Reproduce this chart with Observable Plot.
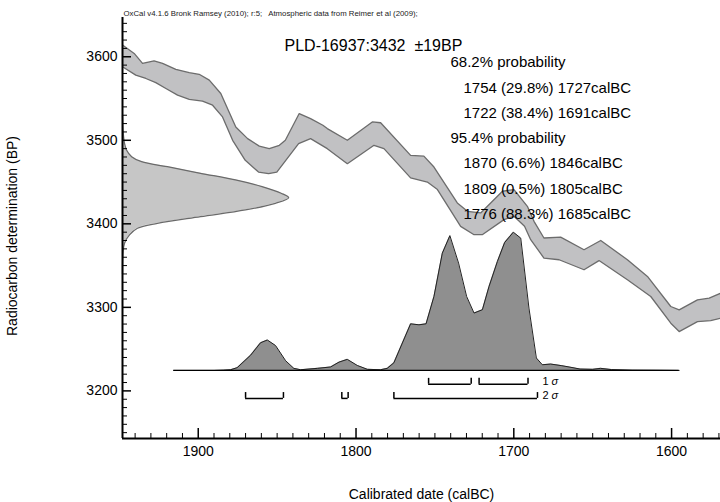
<!DOCTYPE html>
<html><head><meta charset="utf-8">
<script src="https://cdn.jsdelivr.net/npm/d3@7"></script>
<script src="https://cdn.jsdelivr.net/npm/@observablehq/plot@0.6"></script>
<style>
html,body{margin:0;padding:0;background:#fff;}
#chart svg{display:block;}
#chart svg text{white-space:pre;}
</style></head><body><div id="chart"></div>
<script>
// ---------- data ----------
const headerText = "OxCal v4.1.6 Bronk Ramsey (2010); r:5;   Atmospheric data from Reimer et al (2009);";
const sampleTitle = "PLD-16937:3432  \u00B119BP";
const rangeLines = ["68.2% probability", "1754 (29.8%) 1727calBC", "1722 (38.4%) 1691calBC",
  "95.4% probability", "1870 (6.6%) 1846calBC", "1809 (0.5%) 1805calBC", "1776 (88.3%) 1685calBC"];
const rangeIndent = [0, 1, 1, 0, 1, 1, 1];
const xTickValues = [1900, 1800, 1700, 1600];
const yTickValues = [3600, 3500, 3400, 3300, 3200];
const xLabel = "Calibrated date (calBC)";
const yLabel = "Radiocarbon determination (BP)";
const sigmaLabels = ["1", "2"];

// calibration curve band, [year calBC, BP]
const calUpper = [[1948,3614],[1940.6,3604],[1935.3,3592],[1928,3595],[1922.6,3592],[1914.2,3585],
  [1905.7,3581],[1899.4,3579],[1893,3572],[1885.7,3556],[1876.2,3516],[1868.7,3502],[1861.3,3493],
  [1855,3490],[1848.6,3494],[1844.8,3500],[1836,3532],[1828.8,3526],[1821,3518],[1818.2,3514],
  [1805.5,3500],[1789.7,3522],[1784.4,3521],[1765.4,3482],[1757,3481],[1750.6,3468],[1735.8,3425],
  [1729.4,3415],[1721,3413],[1707.2,3439],[1699.9,3441],[1691.4,3421],[1687.2,3403],[1680.9,3383],
  [1670.3,3384],[1655.5,3369],[1644.9,3380],[1628,3357],[1615.3,3337],[1600.5,3301],[1595.2,3297],
  [1583.6,3309],[1576.2,3311],[1568.8,3317]];
const calLower = [[1948,3588],[1939.6,3578],[1933.2,3574],[1926.9,3569],[1920.5,3562],[1913.1,3554],
  [1905.7,3549],[1897.3,3547],[1890.9,3542],[1884.6,3528],[1878.2,3500],[1870.2,3476],[1861.8,3462],
  [1855.4,3460],[1850.2,3462],[1836.4,3496],[1828.8,3502],[1818.2,3490],[1805.5,3472],[1788.6,3494],
  [1782.3,3490],[1765.4,3455],[1754.8,3450],[1748.4,3441],[1733.7,3397],[1725.2,3387],[1720,3387],
  [1706.2,3405],[1699.9,3409],[1693.2,3397],[1689.3,3381],[1680.9,3359],[1671.3,3357],[1655.5,3345],
  [1646,3356],[1628,3333],[1613.2,3313],[1600.5,3281],[1595.2,3271],[1583.6,3283],[1575.2,3284],
  [1568.8,3287]];

// calibrated (posterior) probability, [year calBC, relative probability]
const posterior = [[1915.5,0],[1890,0],[1884,0.002],[1879.5,0.005],[1875.3,0.02],[1866.8,0.11],
  [1860.5,0.20],[1856.2,0.22],[1851,0.18],[1844.6,0.07],[1839.4,0.015],[1835.1,0.005],[1824.5,0.015],
  [1816.1,0.025],[1810.8,0.06],[1805.5,0.08],[1799.2,0.036],[1792.8,0.008],[1784.4,0.005],[1780.2,0.015],
  [1776,0.055],[1765.4,0.337],[1760.1,0.33],[1755.6,0.337],[1750.6,0.535],[1745.3,0.848],[1740.5,0.975],
  [1735,0.776],[1729.9,0.535],[1725.2,0.415],[1719.9,0.439],[1715.7,0.607],[1710.4,0.788],[1705.8,0.925],
  [1700.3,1.0],[1695.6,0.957],[1690.4,0.451],[1685.7,0.09],[1681.9,0.041],[1676.6,0.046],[1670,0.035],
  [1665,0.025],[1658,0.01],[1650,0.008],[1645,0.015],[1638,0.006],[1625,0.002],[1610,0.001],[1595.2,0]];

// radiocarbon determination 3432 ± 19 BP, [BP, relative probability]
const c14 = [[3530,0],[3510,0.004],[3496.4,0.012],[3488.4,0.024],[3480.4,0.055],[3474.4,0.115],
  [3468.4,0.27],[3460.5,0.47],[3452.5,0.68],[3444.5,0.84],[3436.6,0.955],[3431.3,1.0],[3424.6,0.92],
  [3416.6,0.74],[3408.6,0.47],[3400.6,0.21],[3394.7,0.09],[3386.7,0.042],[3376.8,0.012],[3364.8,0.003],
  [3340,0]];

// ranges [from, to] calBC
const sigma1Ranges = [[1754,1727],[1722,1691]];
const sigma2Ranges = [[1870,1846],[1809,1805],[1776,1685]];

// ---------- layout ----------
const W = 720, H = 502, mL = 122, mR = 0, mT = 17, mB = 64;
const xDomain = [1948, 1569], yDomain = [3143, 3647];
const frameW = W - mL - mR, frameH = H - mT - mB;
const postBase = 3224.5, postScale = 165.5;   // posterior drawn in BP units above baseline
const c14Scale = 105.3;                        // years per unit probability for the BP curve
const sig1Y = 3208, sig2Y = 3191, capH = 7;

const bandPoly = calUpper.concat(calLower.slice().reverse());
const yMinor = d3.range(3150, 3650, 10).filter(v => v % 100 !== 0);
const xMinor = d3.range(1570, 1950, 10).filter(v => v % 100 !== 0);

const bracketRows = [
  ...sigma1Ranges.map(r => ({a: r[0], b: r[1], y: sig1Y})),
  ...sigma2Ranges.map(r => ({a: r[0], b: r[1], y: sig2Y}))
];
const caps = bracketRows.flatMap(r => [{x: r.a, y: r.y}, {x: r.b, y: r.y}]);
const labelX = d3.min(sigma2Ranges.concat(sigma1Ranges), r => r[1]);

const chart = Plot.plot({
  width: W, height: H,
  marginLeft: mL, marginRight: mR, marginTop: mT, marginBottom: mB,
  style: {fontFamily: "'Liberation Sans', Arial, Helvetica, sans-serif", color: "#000", background: "#fff"},
  x: {domain: xDomain, axis: null},
  y: {domain: yDomain, axis: null},
  marks: [
    // calibration band
    Plot.line(bandPoly, {x: d => d[0], y: d => d[1], fill: "#c1c1c3", stroke: null, clip: true}),
    Plot.line(calUpper, {x: d => d[0], y: d => d[1], stroke: "#6c6c6c", strokeWidth: 1.3, clip: true}),
    Plot.line(calLower, {x: d => d[0], y: d => d[1], stroke: "#6c6c6c", strokeWidth: 1.3, clip: true}),
    // radiocarbon determination on the y axis
    Plot.areaX(c14, {y: d => d[0], x1: xDomain[0], x2: d => xDomain[0] - d[1] * c14Scale, fill: "#c6c6c6", curve: "catmull-rom"}),
    Plot.line(c14, {y: d => d[0], x: d => xDomain[0] - d[1] * c14Scale, stroke: "#6a6a6a", strokeWidth: 1.3, curve: "catmull-rom"}),
    // posterior
    Plot.areaY(posterior, {x: d => d[0], y1: postBase, y2: d => postBase + d[1] * postScale, fill: "#8f8f8f"}),
    Plot.line(posterior, {x: d => d[0], y: d => postBase + d[1] * postScale, stroke: "#222", strokeWidth: 1}),
    Plot.ruleY([postBase], {x1: d3.max(posterior, d => d[0]), x2: d3.min(posterior, d => d[0]), stroke: "#000", strokeWidth: 1.3}),
    // range brackets
    Plot.ruleY(bracketRows, {y: "y", x1: "a", x2: "b", stroke: "#000", strokeWidth: 1.5}),
    Plot.ruleX(caps, {x: "x", y1: "y", y2: d => d.y + capH, stroke: "#000", strokeWidth: 1.5}),
    Plot.text(sigmaLabels, {x: labelX, y: (d, i) => i === 0 ? sig1Y : sig2Y, text: d => d, textAnchor: "start", lineAnchor: "bottom", dx: 5, dy: 1, fontSize: 11}),
    Plot.text(sigmaLabels, {x: labelX, y: (d, i) => i === 0 ? sig1Y : sig2Y, text: () => "\u03C3", textAnchor: "start", lineAnchor: "bottom", dx: 14, dy: 1, fontSize: 11, fontStyle: "italic"}),
    // ticks (inward)
    Plot.tickY(yMinor, {y: d => d, insetRight: frameW - 5, stroke: "#000", strokeWidth: 1}),
    Plot.tickY(yTickValues, {y: d => d, insetRight: frameW - 9, stroke: "#000", strokeWidth: 1.5}),
    Plot.tickX(xMinor, {x: d => d, insetTop: frameH - 5, stroke: "#000", strokeWidth: 1}),
    Plot.tickX(xTickValues, {x: d => d, insetTop: frameH - 10, stroke: "#000", strokeWidth: 1.5}),
    // axis lines
    Plot.ruleX([xDomain[0]], {stroke: "#000", strokeWidth: 2}),
    Plot.ruleY([yDomain[0]], {stroke: "#000", strokeWidth: 2}),
    // axis tick labels
    Plot.axisY({ticks: yTickValues, anchor: "left", tickSize: 0, tickPadding: 5, fontSize: 14, tickFormat: d => String(d), label: null}),
    Plot.axisX({ticks: xTickValues, anchor: "bottom", tickSize: 0, tickPadding: 8, fontSize: 14, tickFormat: d => String(d), label: null}),
    // axis titles
    Plot.text([xLabel], {frameAnchor: "bottom", textAnchor: "middle", lineAnchor: "bottom", dy: 60, fontSize: 14}),
    Plot.text([yLabel], {frameAnchor: "left", textAnchor: "middle", lineAnchor: "middle", rotate: -90, dx: -110, dy: 8, fontSize: 14}),
    // header and annotation
    Plot.text([headerText], {frameAnchor: "top-left", textAnchor: "start", lineAnchor: "bottom", dx: 1, dy: -2, fontSize: 7.8, fill: "#222"}),
    Plot.text([sampleTitle], {frameAnchor: "top-left", textAnchor: "start", lineAnchor: "bottom", dx: 162, dy: 33, fontSize: 16}),
    ...rangeLines.map((t, i) => Plot.text([t], {frameAnchor: "top-left", textAnchor: "start", lineAnchor: "bottom",
      dx: rangeIndent[i] ? 341 : 328, dy: 49.7 + 25.3 * i, fontSize: 15}))
  ]
});
document.getElementById("chart").appendChild(chart);
</script></body></html>
